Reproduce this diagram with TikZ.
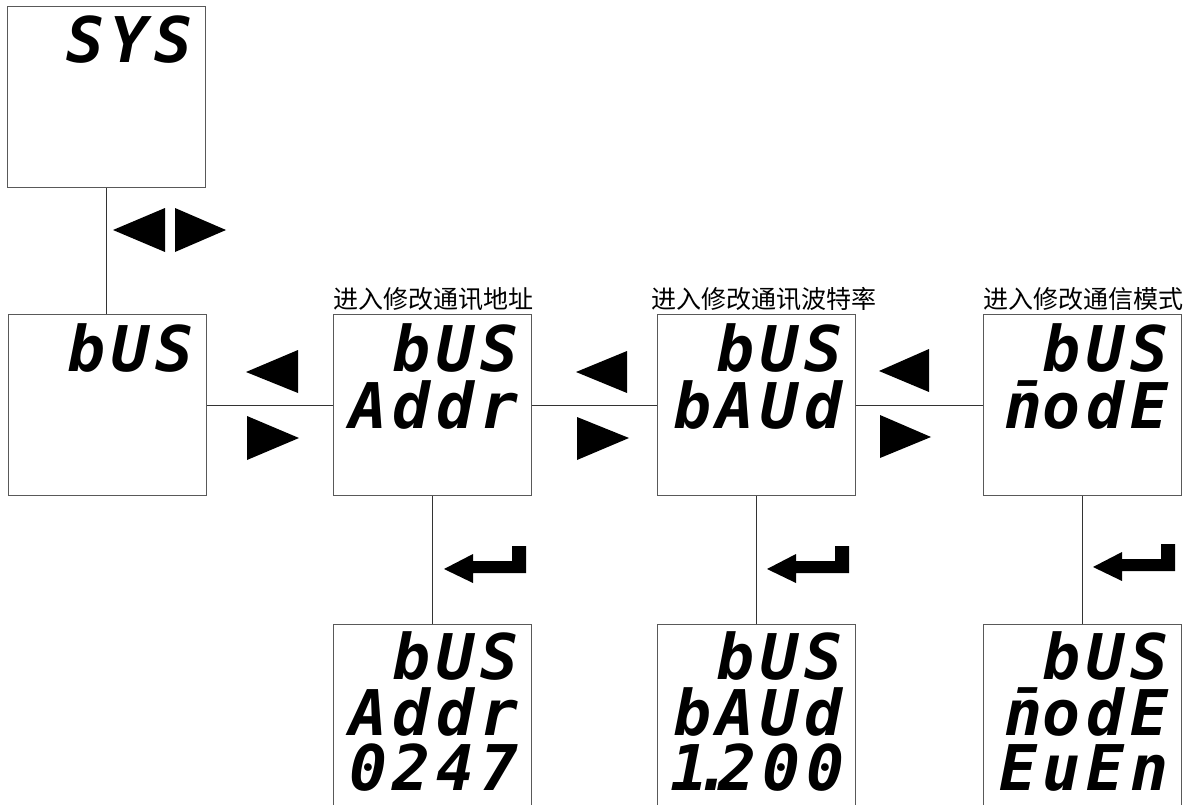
\documentclass[tikz,border=0pt]{standalone}
\usepackage{fontspec}
\usetikzlibrary{calc}
\newfontfamily\cjkfont{Noto Sans CJK SC}
\newfontfamily\lcdfont[LetterSpace=9]{DejaVu Sans Mono}
\newcommand{\nbar}{\ooalign{n\cr\hidewidth\char"AF\hidewidth\cr}}
\newcommand{\lcddot}{\kern0.08em\makebox[0pt][c]{.}\kern0.08em}
\tikzset{
  dispbox/.style={draw=black!65, line width=1.2pt, minimum width=198pt, minimum height=181pt, inner sep=0pt, anchor=north west, fill=white},
  lcd/.style={font=\lcdfont\bfseries\itshape\fontsize{63}{63}\selectfont, inner sep=0pt, text depth=0pt, anchor=base east},
  lbl/.style={font=\cjkfont\fontsize{25}{25}\selectfont, inner sep=0pt, anchor=base west},
  link/.style={draw=black!80, line width=1pt},
  tri/.style={fill=black},
  enterkey/.style={fill=black}
}
\newcommand{\enterarrow}[2]{%
  \fill[enterkey, shift={(#1,#2)}] (0,23) -- (29,8) -- (29,15) -- (68,15) -- (68,0) -- (82,0) -- (82,27) -- (29,27) -- (29,37) -- cycle;}
\begin{document}
\begin{tikzpicture}[x=1pt, y=-1pt]
\useasboundingbox (0,0) rectangle (1193,805);
\fill[white] (0,0) rectangle (1193,805);

% boxes
\node[dispbox] (sys) at (7,6) {};
\node[dispbox] (bus) at (8,314) {};
\node[dispbox] (addr) at (333,314) {};
\node[dispbox] (baud) at (657,314) {};
\node[dispbox] (mode) at (983,314) {};
\node[dispbox] (addrv) at (333,624) {};
\node[dispbox] (baudv) at (657,624) {};
\node[dispbox] (modev) at (983,624) {};

% connectors
\draw[link] (sys.south) -- (sys.south |- bus.north);
\draw[link] (bus.east) -- (addr.west);
\draw[link] (addr.east) -- (baud.west);
\draw[link] (baud.east) -- (mode.west);
\draw[link] (addr.south) -- (addr.south |- addrv.north);
\draw[link] (baud.south) -- (baud.south |- baudv.north);
\draw[link] (mode.south) -- (mode.south |- modev.north);

% labels
\node[lbl] (laddr) at ($(addr.north west)+(0,-6)$) {进入修改通讯地址};
\node[lbl] (lbaud) at ($(baud.north west)+(-6,-6)$) {进入修改通讯波特率};
\node[lbl] (lmode) at ($(mode.north west)+(0,-6)$) {进入修改通信模式};

% LCD texts
\node[lcd] (tsys) at ($(sys.north east)+(-14,57)$) {SYS};
\node[lcd] (tbus) at ($(bus.north east)+(-14,57)$) {bUS};
\node[lcd] (ta1) at ($(addr.north east)+(-14,57)$) {bUS};
\node[lcd] (ta2) at ($(addr.north east)+(-14,114)$) {Addr};
\node[lcd] (tb1) at ($(baud.north east)+(-14,57)$) {bUS};
\node[lcd] (tb2) at ($(baud.north east)+(-14,114)$) {bAUd};
\node[lcd] (tm1) at ($(mode.north east)+(-14,57)$) {bUS};
\node[lcd] (tm2) at ($(mode.north east)+(-14,114)$) {\nbar odE};
\node[lcd] (va1) at ($(addrv.north east)+(-14,55)$) {bUS};
\node[lcd] (va2) at ($(addrv.north east)+(-14,111)$) {Addr};
\node[lcd] (va3) at ($(addrv.north east)+(-14,166)$) {0247};
\node[lcd] (vb1) at ($(baudv.north east)+(-14,55)$) {bUS};
\node[lcd] (vb2) at ($(baudv.north east)+(-14,111)$) {bAUd};
\node[lcd] (vb3) at ($(baudv.north east)+(-12,166)$) {1\lcddot 200};
\node[lcd] (vm1) at ($(modev.north east)+(-14,55)$) {bUS};
\node[lcd] (vm2) at ($(modev.north east)+(-14,111)$) {\nbar odE};
\node[lcd] (vm3) at ($(modev.north east)+(-14,166)$) {EuEn};

% left/right triangles
\fill[tri] (113,230) -- (165,208) -- (165,252) -- cycle;
\fill[tri] (175,208) -- (226,230) -- (175,252) -- cycle;
\fill[tri] (246,372) -- (298,350) -- (298,393) -- cycle;
\fill[tri] (247,416) -- (299,438) -- (247,460) -- cycle;
\fill[tri] (576,372) -- (627,351) -- (627,393) -- cycle;
\fill[tri] (577,417) -- (629,438) -- (577,460) -- cycle;
\fill[tri] (879,371) -- (929,349) -- (929,392) -- cycle;
\fill[tri] (880,415) -- (931,437) -- (880,458) -- cycle;

% enter keys
\enterarrow{444}{546}
\enterarrow{767}{546}
\enterarrow{1093}{544}
\end{tikzpicture}
\end{document}
